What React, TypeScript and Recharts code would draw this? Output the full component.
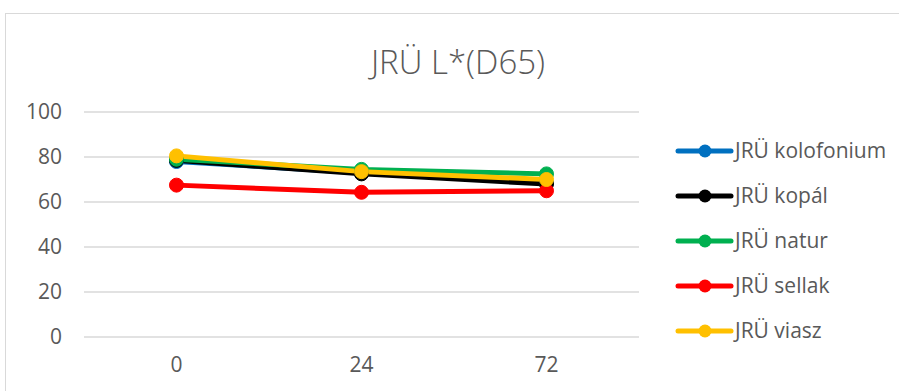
import React from "react";
import {
  LineChart,
  Line,
  XAxis,
  YAxis,
  CartesianGrid,
  Legend,
} from "recharts";

// hours of ageing on the x axis
const hours = ["0", "24", "72"];

// L* (D65) readings per coating
const kolofonium = [78, 73, 68.5];
const kopal = [78.5, 72.5, 68];
const natur = [79, 74.5, 72.5];
const sellak = [67.5, 64.3, 65];
const viasz = [80.5, 73.5, 70];

const yTicks = [0, 20, 40, 60, 80, 100];

const series = [
  { key: "kolofonium", name: "JRÜ kolofonium", color: "#0070C0", values: kolofonium },
  { key: "kopal", name: "JRÜ kopál", color: "#000000", values: kopal },
  { key: "natur", name: "JRÜ natur", color: "#00B050", values: natur },
  { key: "sellak", name: "JRÜ sellak", color: "#FF0000", values: sellak },
  { key: "viasz", name: "JRÜ viasz", color: "#FFC000", values: viasz },
];

const data = hours.map((h, i) => {
  const row: Record<string, string | number> = { hour: h };
  series.forEach((s) => {
    row[s.key] = s.values[i];
  });
  return row;
});

const FONT = "'Open Sans', sans-serif";
const TEXT = "#595959";

const LegendList = (props: any) => {
  const items = props.payload || [];
  return (
    <svg width={230} height={230}>
      {items.map((item: any, i: number) => {
        const y = 26 + i * 45;
        return (
          <g key={item.value}>
            <line x1={10} x2={63} y1={y} y2={y} stroke={item.color} strokeWidth={5} strokeLinecap="round" />
            <circle cx={37} cy={y} r={6.5} fill={item.color} />
            <text x={67} y={y} dy="0.35em" fontSize={21} fill={TEXT} fontFamily={FONT}>
              {item.value}
            </text>
          </g>
        );
      })}
    </svg>
  );
};

export default function App() {
  return (
    <div
      style={{
        position: "fixed",
        left: 0,
        top: 0,
        width: 899,
        height: 391,
        overflow: "hidden",
        background: "#fff",
      }}
    >
      <div
        style={{
          position: "absolute",
          left: 5,
          top: 13,
          width: 1000,
          height: 500,
          border: "1.5px solid #D9D9D9",
        }}
      />
      <div
        style={{
          position: "absolute",
          left: 0,
          width: 916,
          top: 39,
          textAlign: "center",
          fontFamily: FONT,
          fontWeight: 300,
          fontSize: 33,
          color: TEXT,
          lineHeight: "46px",
        }}
      >
        JRÜ L*(D65)
      </div>
      <div style={{ position: "absolute", left: 0, top: 0 }}>
        {/* legend box width (230) is added to the right offset by recharts */}
        <LineChart
          width={899}
          height={391}
          data={data}
          margin={{ top: 112, right: 30, left: 0, bottom: 0 }}
        >
          <CartesianGrid vertical={false} stroke="#D9D9D9" strokeWidth={1.5} />
          <XAxis
            dataKey="hour"
            axisLine={false}
            tickLine={false}
            height={54}
            padding={{ left: 92.5, right: 92.5 }}
            tick={{ fill: TEXT, fontSize: 21, fontFamily: FONT }}
            tickMargin={14}
          />
          <YAxis
            domain={[0, 100]}
            ticks={yTicks}
            axisLine={false}
            tickLine={false}
            width={84}
            tickMargin={16}
            tick={{ fill: TEXT, fontSize: 21, fontFamily: FONT }}
          />
          <Legend
            layout="horizontal"
            verticalAlign="middle"
            align="right"
            content={<LegendList />}
            wrapperStyle={{ position: "absolute", left: 668, top: 125, width: 230 }}
          />
          {series.map((s) => (
            <Line
              key={s.key}
              dataKey={s.key}
              name={s.name}
              stroke={s.color}
              strokeWidth={5}
              dot={{ r: 7, fill: s.color, stroke: s.color, strokeWidth: 1 }}
              activeDot={false}
              isAnimationActive={false}
            />
          ))}
        </LineChart>
      </div>
    </div>
  );
}
